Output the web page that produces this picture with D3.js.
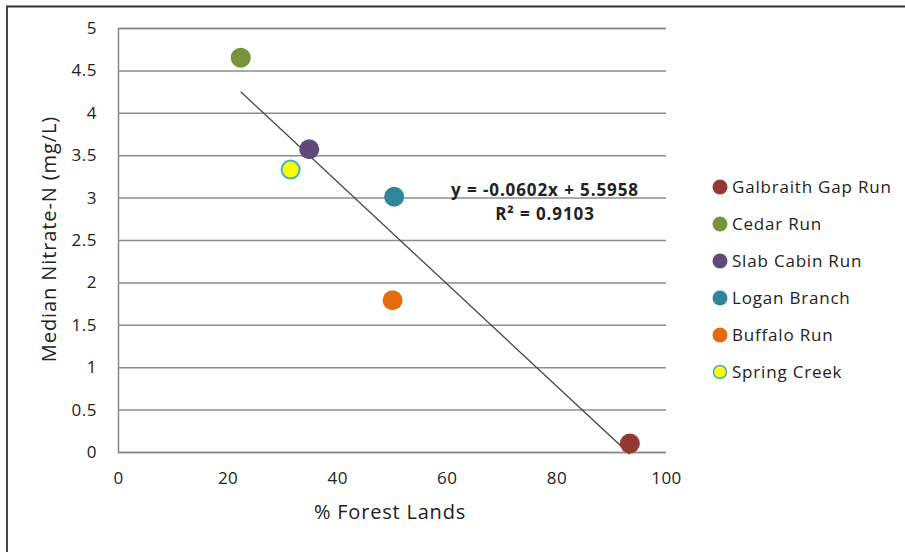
<!DOCTYPE html>
<html>
<head>
<meta charset="utf-8">
<script src="https://cdn.jsdelivr.net/npm/d3@7/dist/d3.min.js"></script>
<style>
	body { margin: 0; background: #fff; }
	svg text { font-family: "Open Sans", "Noto Sans", sans-serif; fill: #222; }
</style>
</head>
<body>
<div class="vis"></div>
<script>
// data
var sites = ['Galbraith Gap Run', 'Cedar Run', 'Slab Cabin Run', 'Logan Branch', 'Buffalo Run', 'Spring Creek'];
var forest = [93.4, 22.4, 34.9, 50.4, 50.1, 31.5];
var nitrate = [0.10, 4.65, 3.57, 3.01, 1.79, 3.33];
var fills = ['#953735', '#77933C', '#604A7B', '#31859C', '#E46C0A', '#FFFF00'];
var xTicks = [0, 20, 40, 60, 80, 100];
var yTicks = [0, 0.5, 1, 1.5, 2, 2.5, 3, 3.5, 4, 4.5, 5];
var slope = -0.0602, intercept = 5.5958;
var eqLines = ['y = -0.0602x + 5.5958', 'R² = 0.9103'];

var W = 905, H = 552;
var margin = {top: 28, left: 118};
var plotW = 548, plotH = 424;

var svg = d3.select('.vis').append('svg')
	.attr('width', W)
	.attr('height', H);

// outer frame (only top and left edges visible)
svg.append('line').attr('x1', 7).attr('x2', W).attr('y1', 6.5).attr('y2', 6.5)
	.attr('stroke', '#333').attr('stroke-width', 2);
svg.append('line').attr('x1', 7).attr('x2', 7).attr('y1', 5.5).attr('y2', H)
	.attr('stroke', '#444').attr('stroke-width', 2);

var chart = svg.append('g')
	.attr('transform', 'translate(' + margin.left + ',' + margin.top + ')');

var x = d3.scaleLinear().domain([0, 100]).range([0, plotW]);
var y = d3.scaleLinear().domain([0, 5]).range([plotH, 0]);

// gridlines + y labels
var yAxis = d3.axisLeft(y)
	.tickValues(yTicks)
	.tickSize(-plotW)
	.tickPadding(21)
	.tickFormat(d3.format(''));
var gy = chart.append('g').attr('class', 'y axis').call(yAxis);
gy.select('.domain').attr('stroke', '#868686').attr('stroke-width', 1.5);
gy.selectAll('.tick line').attr('stroke', '#8c8c8c').attr('stroke-width', 1.5);
gy.selectAll('.tick text').style('font-size', '17px').style('letter-spacing', '0.5px').attr('fill', '#222');

var xAxis = d3.axisBottom(x)
	.tickValues(xTicks)
	.tickSize(0)
	.tickPadding(20);
var gx = chart.append('g').attr('transform', 'translate(0,' + plotH + ')').call(xAxis);
gx.select('.domain').remove();
gx.selectAll('.tick text').style('font-size', '17px').style('letter-spacing', '0.5px').attr('fill', '#222');

// trendline across the x range of the data
var xr = d3.extent(forest);
chart.append('line')
	.attr('x1', x(xr[0])).attr('y1', y(slope * xr[0] + intercept))
	.attr('x2', x(xr[1])).attr('y2', y(slope * xr[1] + intercept))
	.attr('stroke', '#444').attr('stroke-width', 1.3);

// points
sites.forEach(function(s, i) {
	chart.append('circle')
		.attr('cx', x(forest[i]))
		.attr('cy', y(nitrate[i]))
		.attr('r', s === 'Spring Creek' ? 9 : 10)
		.attr('fill', fills[i])
		.attr('stroke', s === 'Spring Creek' ? '#4BACC6' : 'none')
		.attr('stroke-width', 2);
});

// equation label
chart.append('text')
	.attr('text-anchor', 'middle')
	.style('font-size', '17px').style('font-weight', 'bold').style('letter-spacing', '0.9px')
	.selectAll('tspan').data(eqLines).enter().append('tspan')
	.attr('x', 427).attr('y', function(d, i) { return 168 + i * 24; })
	.text(function(d) { return d; });

// axis titles
svg.append('text')
	.attr('x', 390).attr('y', 519)
	.attr('text-anchor', 'middle')
	.style('font-size', '20px').style('letter-spacing', '0.8px')
	.text('% Forest Lands');
svg.append('text')
	.attr('transform', 'translate(56,239) rotate(-90)')
	.attr('text-anchor', 'middle')
	.style('font-size', '20px').style('letter-spacing', '0.9px')
	.text('Median Nitrate-N (mg/L)');

// legend
var legend = svg.append('g').attr('transform', 'translate(720,187)');
sites.forEach(function(s, i) {
	var row = legend.append('g').attr('transform', 'translate(0,' + (i * 37) + ')');
	row.append('circle')
		.attr('r', s === 'Spring Creek' ? 6.5 : 7.5)
		.attr('fill', fills[i])
		.attr('stroke', s === 'Spring Creek' ? '#4BACC6' : 'none')
		.attr('stroke-width', 1.5);
	row.append('text')
		.attr('x', 12).attr('dy', '0.35em')
		.style('font-size', '17px').style('letter-spacing', '0.8px')
		.text(s);
});
</script>
</body>
</html>
